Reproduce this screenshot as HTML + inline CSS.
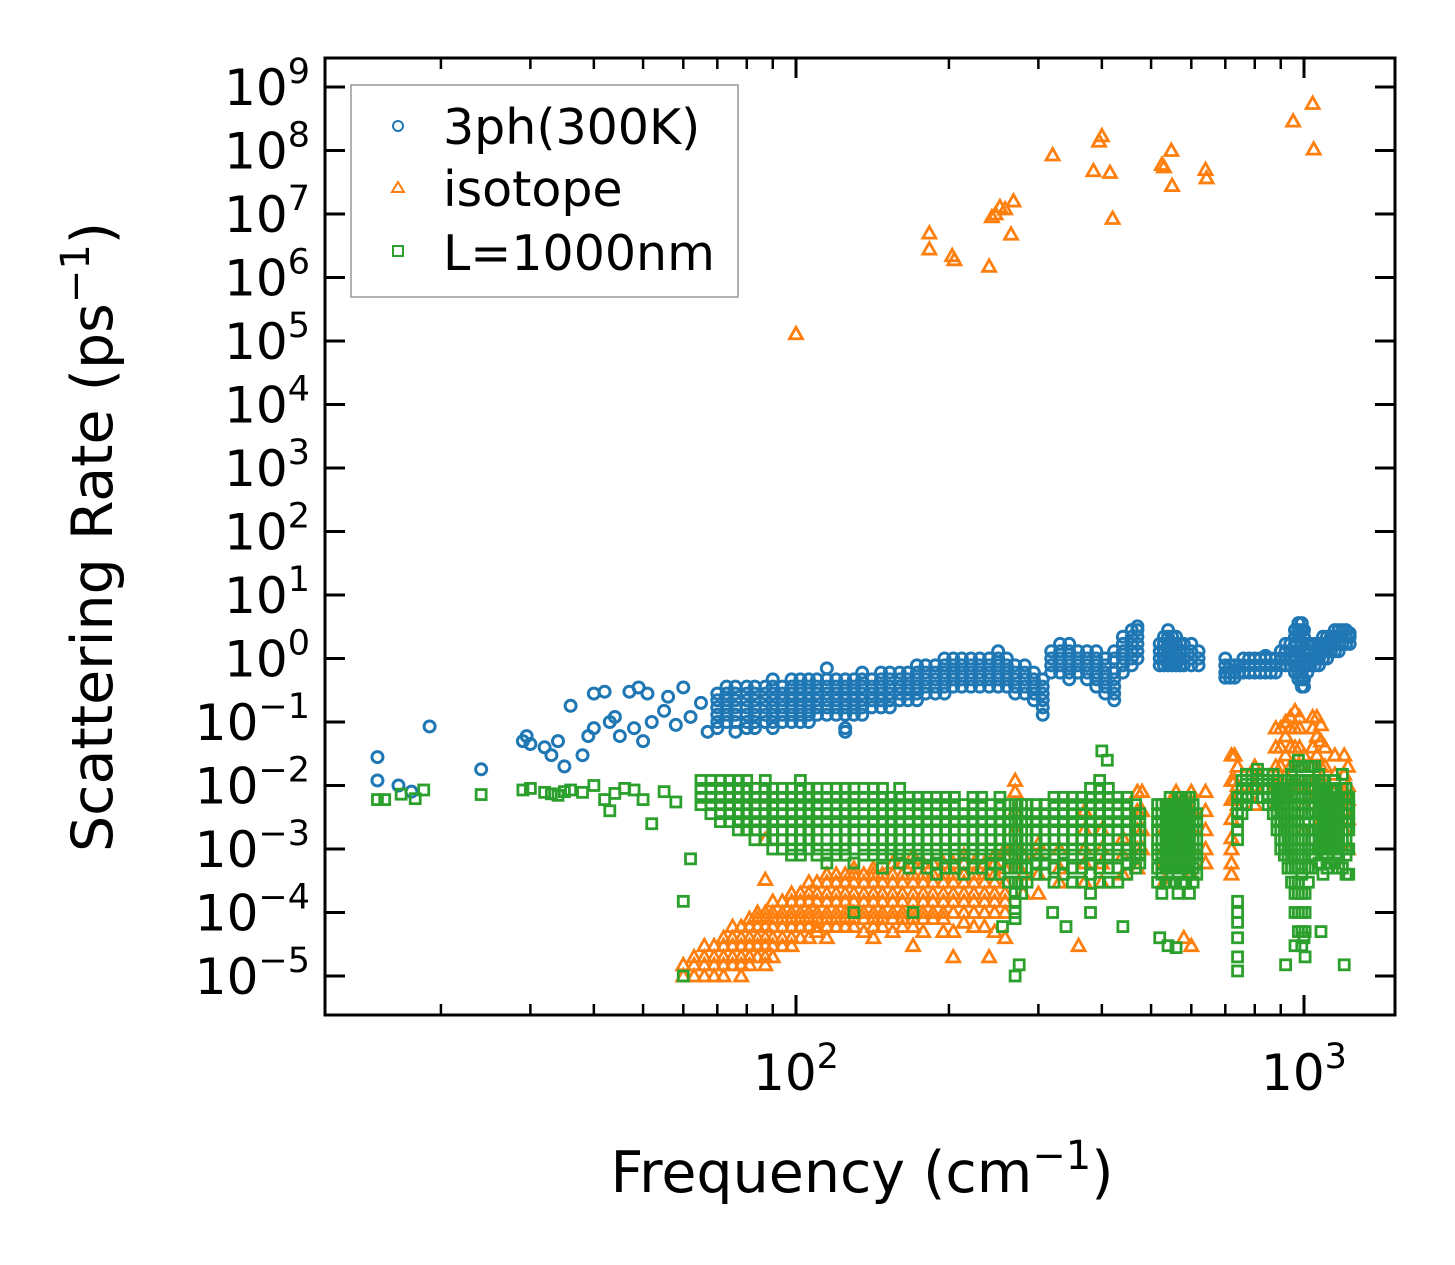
<!DOCTYPE html>
<html><head><meta charset="utf-8"><style>
html,body{margin:0;padding:0;background:#fff;}
svg{display:block;font-family:"DejaVu Sans","Liberation Sans",sans-serif;}
</style></head><body>
<svg id="chart" width="1455" height="1265" viewBox="0 0 1455 1265" xmlns="http://www.w3.org/2000/svg">
<rect width="1455" height="1265" fill="#fff"/>
<g id="marks"></g>
<g id="axes"></g>
<text x="112" y="537" font-size="57" text-anchor="middle" transform="rotate(-90 112 537)">Scattering Rate (ps<tspan dy="-23" font-size="40">−1</tspan><tspan dy="23">)</tspan></text>
<text x="862" y="1192" font-size="57" text-anchor="middle">Frequency (cm<tspan dy="-23" font-size="40">−1</tspan><tspan dy="23">)</tspan></text>
<g>
<rect x="351" y="85" width="387" height="212" fill="#fff" stroke="#999" stroke-width="1.5"/>
<g><circle cx="398" cy="126" r="5" fill="none" stroke="#1f77b4" stroke-width="2"/><text x="443" y="144" font-size="49">3ph(300K)</text></g>
<g><path d="M398,182 L404,192 L392,192 Z" fill="none" stroke="#ff7f0e" stroke-width="2"/><text x="443" y="206" font-size="49">isotope</text></g>
<g><rect x="393" y="246" width="10" height="10" fill="none" stroke="#2ca02c" stroke-width="2"/><text x="443" y="270" font-size="49">L=1000nm</text></g>
</g>
</svg>
<script>
// ---- data ----
const yTickExps=[9,8,7,6,5,4,3,2,1,0,-1,-2,-3,-4,-5];
const xTickExps=[2,3];
const xMinorTicks=[20,30,40,50,60,70,80,90,200,300,400,500,600,700,800,900];
const blueSparse=[[15,0.012],[15,0.028],[16.5,0.01],[17.5,0.008],[19,0.085],[24,0.018],[29,0.05],[29.5,0.06],[30,0.045],[32,0.04],[33,0.03],[34,0.05],[35,0.02],[36,0.18],[38,0.03],[39,0.06],[40,0.08],[40,0.28],[42,0.3],[43,0.1],[44,0.12],[45,0.06],[47,0.3],[48,0.08],[49,0.35],[50,0.05],[51,0.28],[52,0.1],[55,0.15],[56,0.25],[58,0.09],[60,0.35],[62,0.12],[65,0.2],[67,0.07],[115,0.7],[125,0.07]];
const blueRows=[[70,.08,.1,.13,.17,.22,.28],[73,.1,.13,.17,.22,.28,.36],[76,.07,.1,.13,.17,.22,.28,.36],[80,.08,.1,.13,.17,.22,.28,.36],[83,.08,.1,.13,.17,.22,.28,.36],[87,.1,.13,.17,.22,.28,.36],[90,.08,.1,.13,.17,.22,.28,.36,.47],[94,.1,.13,.17,.22,.28,.36],[98,.1,.13,.17,.22,.28,.36,.47],[102,.1,.13,.17,.22,.28,.36,.47],[106,.1,.13,.17,.22,.28,.36,.47],[110,.13,.17,.22,.28,.36,.47],[115,.13,.17,.22,.28,.36,.47],[120,.13,.17,.22,.28,.36,.47],[125,.08,.13,.17,.22,.28,.36,.47],[130,.13,.17,.22,.28,.36,.47],[135,.13,.17,.22,.28,.36,.47,.6],[141,.17,.22,.28,.36,.47],[147,.17,.22,.28,.36,.47,.6],[153,.17,.22,.28,.36,.47,.6],[160,.22,.28,.36,.47,.6],[166,.22,.28,.36,.47,.6],[173,.22,.28,.36,.47,.6,.78],[180,.28,.36,.47,.6,.78],[188,.28,.36,.47,.6,.78],[196,.28,.36,.47,.6,.78,1],[204,.36,.47,.6,.78,1],[212,.36,.47,.6,.78,1],[221,.36,.47,.6,.78,1],[230,.36,.47,.6,.78,1],[240,.36,.47,.6,.78,1],[250,.36,.47,.6,.78,1,1.3],[260,.36,.47,.6,.78,1],[270,.28,.36,.47,.6,.78],[282,.28,.36,.47,.6,.78],[294,.22,.28,.36,.47,.6],[306,.13,.17,.22,.28,.36,.47],[318,.6,.78,1,1.3],[331,.6,.78,1,1.3,1.7],[345,.47,.6,.78,1,1.3,1.7],[359,.6,.78,1,1.3],[374,.47,.6,.78,1,1.3],[390,.36,.47,.6,.78,1,1.3],[406,.28,.36,.47,.6,.78,1],[423,.22,.28,.36,.47,.6,1,1.3],[440,.6,.78,1,1.3,1.7,2.2],[458,.78,1,1.3,1.7,2.2,2.8],[470,1,1.3,1.7,2.2,2.8,3.2],[520,.78,1,1.3,1.7],[530,.78,1,1.3,1.7,2.2],[540,.78,1,1.3,1.7,2.2,2.8],[550,.78,1,1.3,1.7,2.2],[560,.78,1,1.3,1.7,2.2],[570,.78,1,1.3,1.7],[580,.78,1,1.3,1.7],[600,.78,1,1.3,1.7],[620,.78,1,1.3],[700,.5,.6,.78,1],[715,.5,.6,.78],[730,.5,.6,.78],[745,.6,.78],[760,.6,.78,1],[780,.6,.78,1],[800,.6,.78,1],[820,.6,.78,1],[840,.6,.78,1,1.1],[860,.6,.78,1],[880,.6,.78,1],[900,.78,1,1.3],[920,.78,1,1.3,1.7],[940,.78,1,1.3,1.7],[960,.6,.78,1,1.3,1.7,2.2,2.8],[975,.47,.6,.78,1.3,2.2,2.8,3.6],[990,.36,.47,.6,1,1.7,2.8,3.6],[1000,.36,.47,.78,1.3,2.2,2.8],[1015,.6,.78,1,1.3,1.7],[1030,.78,1,1.3,1.7],[1050,.78,1,1.3,1.7],[1070,.78,1,1.3,1.7],[1090,1,1.3,1.7,2.2],[1110,1,1.3,1.7,2.2],[1130,1.3,1.7,2.2],[1150,1.3,1.7,2.2,2.8],[1170,1.3,1.7,2.2,2.8],[1190,1.7,2.2,2.8],[1210,1.7,2.2,2.8],[1230,1.7,2.2,2.5]];
const isoSparse=[[100,1.3e5],[183,5e6],[183,2.8e6],[203,2.2e6],[205,1.9e6],[240,1.5e6],[243,9e6],[247,1e7],[252,1.3e7],[258,1.2e7],[265,4.8e6],[268,1.6e7],[320,8.5e7],[385,4.8e7],[395,1.4e8],[400,1.7e8],[415,4.5e7],[420,8.5e6],[525,6e7],[530,5.5e7],[548,1e8],[550,2.8e7],[640,5e7],[643,3.7e7],[952,2.9e8],[1040,5.5e8],[1045,1.05e8],[87,0.0014],[87,0.00033],[170,0.00003],[240,0.00002],[360,0.00003],[720,0.001],[720,0.0006],[720,0.0004],[580,0.00004],[600,0.00003]];
const isoRows=[[60,.00001,.000015],[63,.00001,.000015,.00002],[66,.00001,.000015,.00002,.00003],[69,.00001,.000015,.00002,.00003],[72,.00001,.000015,.00002,.00003,.00004],[75,.000015,.00002,.00003,.00004,.00006],[78,.00001,.000015,.00002,.00003,.00004,.00006],[81,.000015,.00002,.00003,.00004,.00006,.00008],[84,.00002,.00003,.00004,.00006,.00008,.0001],[87,.000015,.00002,.00003,.00004,.00006,.00008,.0001],[90,.00002,.00003,.00004,.00006,.00008,.0001,.00015],[94,.00003,.00004,.00006,.00008,.0001,.00015],[98,.00003,.00004,.00006,.00008,.0001,.00015,.0002],[102,.00004,.00006,.00008,.0001,.00015,.0002],[106,.00004,.00006,.00008,.0001,.00015,.0002,.0003],[110,.00005,.00006,.00008,.0001,.00015,.0002,.0003],[115,.00004,.00006,.00008,.0001,.00015,.0002,.0003,.0004],[120,.00006,.00008,.0001,.00015,.0002,.0003,.0004],[125,.00006,.00008,.0001,.00015,.0002,.0003,.0004],[130,.00006,.00008,.0001,.00015,.0002,.0003,.0004,.0005],[136,.00005,.00008,.0001,.00015,.0002,.0003,.0004],[142,.00004,.00006,.00008,.0001,.00015,.0002,.0003,.0004,.0005],[148,.00006,.00008,.0001,.00015,.0002,.0003,.0004],[155,.00005,.00008,.0001,.00015,.0002,.0003,.0004,.0006],[162,.00006,.00008,.0001,.00015,.0002,.0003,.0004,.0006],[170,.00006,.00008,.0001,.00015,.0002,.0003,.0004,.0006,.0008],[178,.00005,.00008,.0001,.00015,.0002,.0003,.0004,.0006],[186,.00008,.0001,.00015,.0002,.0003,.0004,.0006],[195,.00005,.00008,.0001,.00015,.0002,.0003,.0004,.0006],[204,.00002,.00005,.0001,.00015,.0002,.0003,.0004,.0006],[214,.00007,.0001,.00015,.0002,.0003,.0004,.0006,.0008],[224,.00006,.0001,.00015,.0002,.0003,.0004,.0006],[235,.00006,.0001,.00015,.0002,.0003,.0004,.0006],[246,.00005,.0001,.00015,.0002,.0003,.0004,.0006,.0008],[258,.00004,.0001,.00015,.0002,.0003,.0005,.0008,.001],[270,.0005,.001,.002,.004,.008,.012],[280,.0002,.0004,.0008],[300,.0002,.0004,.0008,.0012],[330,.0003,.0005,.001],[370,.0003,.0006,.001,.002,.004],[400,.0003,.0006,.001,.002],[440,.0004,.0008,.0015],[470,.0005,.001,.002,.004,.008],[480,.001,.002,.004,.008],[530,.0003,.0006,.001,.002],[560,.0005,.001,.002,.004,.008],[600,.0004,.001,.002,.004,.008],[640,.0006,.001,.002,.004,.008],[720,.0015,.003,.006,.012,.03],[730,.006,.012,.03],[740,.005,.01,.02],[800,.005,.01,.02],[880,.005,.01,.02,.04,.08],[900,.01,.02,.04,.08],[920,.008,.015,.03,.06,.1],[940,.01,.02,.04,.08,.12],[960,.01,.02,.04,.08,.15],[980,.01,.02,.04,.08,.12],[1000,.002,.005,.01,.03],[1040,.005,.01,.02,.04,.08,.12],[1060,.008,.015,.03,.06,.12],[1080,.003,.006,.01,.02,.05,.09],[1100,.005,.01,.02,.04],[1150,.002,.004,.008,.015,.03],[1200,.002,.004,.008,.015,.03],[1220,.001,.003,.006,.01,.02]];
const bndSparse=[[15,.006],[15.5,.006],[16.7,.0073],[17.8,.0062],[18.5,.0085],[24,.0072],[29,.0085],[30,.009],[32,.0078],[33,.0074],[34,.007],[35,.008],[36,.0085],[38,.0078],[40,.01],[42,.006],[43,.004],[44,.0075],[46,.009],[48,.0085],[50,.006],[52,.0025],[55,.008],[58,.0055],[60,.00015],[60,.00001],[62,.0007],[130,.0001],[170,.0001],[255,.00006],[270,.00001],[275,.000015],[320,.0001],[340,.00006],[380,.0001],[400,.035],[410,.025],[440,.00006],[520,.00004],[540,.00003],[560,.000028],[920,.000015],[960,.00003],[1000,.00004],[1080,.00005],[1200,.000015],[740,.000012],[740,.00002],[740,.00004],[740,.00007],[740,.0001],[740,.00015]];
const bndRows=[[65,.005,.0065,.009,.012],[68,.0036,.005,.0065,.009,.012],[71,.0027,.0036,.005,.0065,.009,.012],[74,.0027,.0036,.005,.0065,.009,.012],[77,.002,.0027,.0036,.005,.0065,.009,.012],[80,.002,.0027,.0036,.005,.0065,.009,.012],[83,.0014,.002,.0027,.0036,.005,.0065,.009],[87,.0014,.002,.0027,.0036,.005,.0065,.009,.012],[90,.001,.0014,.002,.0027,.0036,.005,.0065,.009],[94,.001,.0014,.002,.0027,.0036,.005,.0065,.009],[98,.0008,.001,.0014,.002,.0027,.0036,.005,.0065,.009],[102,.0008,.001,.0014,.002,.0027,.0036,.005,.0065,.009,.012],[106,.001,.0014,.002,.0027,.0036,.005,.0065,.009],[110,.0008,.001,.0014,.002,.0027,.0036,.005,.0065,.009],[115,.0006,.0008,.001,.0014,.002,.0027,.0036,.005,.0065,.009],[120,.0008,.001,.0014,.002,.0027,.0036,.005,.0065,.009],[125,.0008,.001,.0014,.002,.0027,.0036,.005,.0065,.009],[130,.0006,.001,.0014,.002,.0027,.0036,.005,.0065,.009],[136,.0008,.001,.0014,.002,.0027,.0036,.005,.0065,.009],[142,.0008,.001,.0014,.002,.0027,.0036,.005,.0065,.009],[148,.0005,.0008,.001,.0014,.002,.0027,.0036,.005,.0065,.009],[154,.0008,.001,.0014,.002,.0027,.0036,.005,.0065],[160,.0006,.0008,.001,.0014,.002,.0027,.0036,.005,.0065,.009],[167,.0005,.0008,.001,.0014,.002,.0027,.0036,.005,.0065],[174,.0006,.0008,.001,.0014,.002,.0027,.0036,.005,.0065],[181,.0005,.0008,.001,.0014,.002,.0027,.0036,.005,.0065],[189,.0004,.0006,.0008,.001,.0014,.002,.0027,.0036,.005,.0065],[197,.0005,.0008,.001,.0014,.002,.0027,.0036,.005,.0065],[205,.0005,.0008,.001,.0014,.002,.0027,.0036,.005,.0065],[214,.0004,.0006,.0008,.001,.0014,.002,.0027,.0036,.005],[223,.0005,.0008,.001,.0014,.002,.0027,.0036,.005,.0065],[232,.0005,.0008,.001,.0014,.002,.0027,.0036,.005,.0065],[242,.0004,.0006,.0008,.001,.0014,.002,.0027,.0036,.005],[252,.0004,.0006,.0008,.001,.0014,.002,.0027,.0036,.005,.0065],[262,.0003,.0005,.0008,.001,.0014,.002,.0027,.0036,.005],[270,.00008,.0001,.00015,.0002,.0003,.0005,.0008,.001,.0014,.002,.0027,.0036,.005],[278,.0002,.0003,.0005,.0008,.001,.0014,.002,.0027,.0036,.005],[285,.0003,.0005,.0008,.001,.0014,.002,.0027,.0036,.005],[297,.0004,.0006,.0008,.001,.0014,.002,.0027,.0036,.005],[309,.0004,.0006,.0008,.001,.0014,.002,.0027,.0036,.005],[322,.0003,.0005,.0008,.001,.0014,.002,.0027,.0036,.005,.0065],[336,.0004,.0006,.0008,.001,.0014,.002,.0027,.0036,.005,.0065],[350,.0003,.0005,.0008,.001,.0014,.002,.0027,.0036,.005,.0065],[365,.0003,.0005,.0008,.001,.0014,.002,.0027,.0036,.005,.0065],[380,.0002,.0004,.0006,.0008,.001,.0014,.002,.0027,.0036,.005,.0065,.009],[396,.0003,.0005,.0008,.001,.0014,.002,.0027,.0036,.005,.0065,.009,.012],[412,.0003,.0005,.0008,.001,.0014,.002,.0027,.0036,.005,.0065,.009],[430,.0003,.0005,.0008,.001,.0014,.002,.0027,.0036,.005,.0065],[448,.0004,.0006,.0008,.001,.0014,.002,.0027,.0036,.005,.0065],[466,.0005,.0008,.001,.0014,.002,.0027,.0036,.005],[475,.0006,.0008,.001,.0014,.002,.0027,.0036],[515,.0003,.0005,.0008,.001,.0014,.002,.0027,.0036,.005],[525,.0002,.0004,.0006,.0008,.001,.0014,.002,.0027,.0036,.005],[535,.0003,.0005,.0008,.001,.0014,.002,.0027,.0036,.005],[545,.0003,.0005,.0008,.001,.0014,.002,.0027,.0036,.005,.0065],[555,.0003,.0005,.0008,.001,.0014,.002,.0027,.0036,.005],[565,.0002,.0004,.0006,.0008,.001,.0014,.002,.0027,.0036,.005,.0065],[575,.0003,.0005,.0008,.001,.0014,.002,.0027,.0036,.005,.0065],[585,.0003,.0005,.0008,.001,.0014,.002,.0027,.0036,.005,.0065],[595,.0002,.0004,.0006,.0008,.001,.0014,.002,.0027,.0036,.005,.0065],[605,.0003,.0005,.0008,.001,.0014,.002,.0027,.0036,.005],[615,.0004,.0006,.0008,.001,.0014,.002,.0027,.0036],[740,.0014,.002,.0027,.0036,.005,.0065],[755,.0036,.005,.0065,.009,.012],[770,.005,.0065,.009,.012,.015],[790,.0065,.009,.012,.015],[810,.0065,.009,.012,.015,.018],[830,.0065,.009,.012,.015],[850,.005,.0065,.009,.012,.015],[870,.0036,.005,.0065,.009,.012,.015],[885,.002,.0027,.0036,.005,.0065,.009,.012],[900,.001,.0014,.002,.0027,.0036,.005,.0065,.009],[915,.0008,.001,.0014,.002,.0027,.0036,.005,.0065,.009],[930,.0005,.0008,.001,.0014,.002,.0027,.0036,.005,.0065,.009,.012],[945,.0003,.0005,.0008,.001,.0014,.002,.0027,.0036,.005,.0065,.009,.012,.015],[960,.0001,.0002,.0003,.0005,.0008,.001,.0014,.002,.0027,.0036,.005,.0065,.009,.012,.02],[975,.00005,.0001,.0002,.0003,.0005,.0008,.001,.0014,.002,.0027,.0036,.005,.0065,.009,.012,.02,.025],[990,.00003,.00005,.0001,.0002,.0004,.0008,.0014,.002,.0036,.0065,.012,.02],[1005,.00002,.00005,.0001,.0002,.0005,.001,.002,.0036,.0065,.012,.02],[1020,.0003,.0005,.001,.002,.0036,.0065,.009,.012,.02],[1035,.0005,.0008,.001,.0014,.002,.0036,.005,.0065,.009,.012,.02],[1050,.0008,.001,.0014,.002,.0027,.0036,.005,.0065,.009,.012,.02],[1070,.0006,.001,.0014,.002,.0027,.0036,.005,.0065,.009,.012,.015],[1090,.0004,.0008,.001,.0014,.002,.0027,.0036,.005,.0065,.009,.012],[1110,.0005,.0008,.001,.0014,.002,.0027,.0036,.005,.0065,.009],[1130,.0006,.001,.0014,.002,.0027,.0036,.005,.0065,.009],[1150,.0006,.001,.0014,.002,.0027,.0036,.005,.0065,.009,.012],[1170,.0005,.0008,.001,.0014,.002,.0027,.0036,.005,.0065],[1190,.0005,.001,.0014,.002,.0027,.0036,.005,.0065,.009,.015],[1210,.0004,.0008,.001,.0014,.002,.0027,.0036,.005,.0065,.009],[1225,.0004,.001,.002,.0027,.0036,.005,.0065]];

// ---- scales ----
const X0=325,X1=1395,Y0=58,Y1=1015;
const xs=f=>796+(Math.log10(f)-2)*508;
const ys=r=>87+(9-Math.log10(r))*63.5;
const NS='http://www.w3.org/2000/svg';
const marks=document.getElementById('marks');
const axes=document.getElementById('axes');
function mk(tag,attrs,parent){const e=document.createElementNS(NS,tag);for(const k in attrs)e.setAttribute(k,attrs[k]);parent.appendChild(e);return e;}
function flatten(sparse,rows){const out=sparse.slice();rows.forEach(r=>{for(let i=1;i<r.length;i++)out.push([r[0],r[i]]);});return out;}

const gB=mk('g',{},marks);


flatten(blueSparse,blueRows).forEach(p=>{
  const c=mk('circle',{cx:xs(p[0]),cy:ys(p[1]),r:5.5,fill:'none',stroke:'#1f77b4','stroke-width':3},gB);
  
  
});
const gI=mk('g',{},marks);


flatten(isoSparse,isoRows).forEach(p=>{
  const x=xs(p[0]),y=ys(p[1]);
  const t=mk('path',{d:`M${x},${y-6.5}L${x+6.5},${y+5}L${x-6.5},${y+5}Z`,fill:'none',stroke:'#ff7f0e','stroke-width':2.8},gI);
  
  
});
const gG=mk('g',{},marks);


flatten(bndSparse,bndRows).forEach(p=>{
  const x=xs(p[0]),y=ys(p[1]);
  const s=mk('rect',{x:x-5,y:y-5,width:10,height:10,fill:'none',stroke:'#2ca02c','stroke-width':2.8},gG);
  
  
});

// ---- axes ----
const frame=mk('rect',{x:X0,y:Y0,width:X1-X0,height:Y1-Y0,fill:'none',stroke:'#000','stroke-width':3},axes);


yTickExps.forEach(e=>{
  const y=ys(Math.pow(10,e));
  mk('line',{x1:X0,x2:X0+20,y1:y,y2:y,stroke:'#000','stroke-width':3},axes);
  mk('line',{x1:X1,x2:X1-20,y1:y,y2:y,stroke:'#000','stroke-width':3},axes);
  const t=mk('text',{x:310,y:y+18,'font-size':50,'text-anchor':'end'},axes);
  
  
  t.innerHTML=`10<tspan dy="-22" font-size="35">${e<0?'−'+(-e):e}</tspan>`;
});
xTickExps.forEach(e=>{
  const x=xs(Math.pow(10,e));
  mk('line',{x1:x,x2:x,y1:Y1,y2:Y1-20,stroke:'#000','stroke-width':3},axes);
  mk('line',{x1:x,x2:x,y1:Y0,y2:Y0+20,stroke:'#000','stroke-width':3},axes);
  const t=mk('text',{x:x,y:1090,'font-size':50,'text-anchor':'middle'},axes);
  
  
  t.innerHTML=`10<tspan dy="-22" font-size="35">${e}</tspan>`;
});
xMinorTicks.forEach(f=>{
  const x=xs(f);
  mk('line',{x1:x,x2:x,y1:Y1,y2:Y1-11,stroke:'#000','stroke-width':2.5},axes);
  mk('line',{x1:x,x2:x,y1:Y0,y2:Y0+11,stroke:'#000','stroke-width':2.5},axes);
});
</script>
</body></html>
